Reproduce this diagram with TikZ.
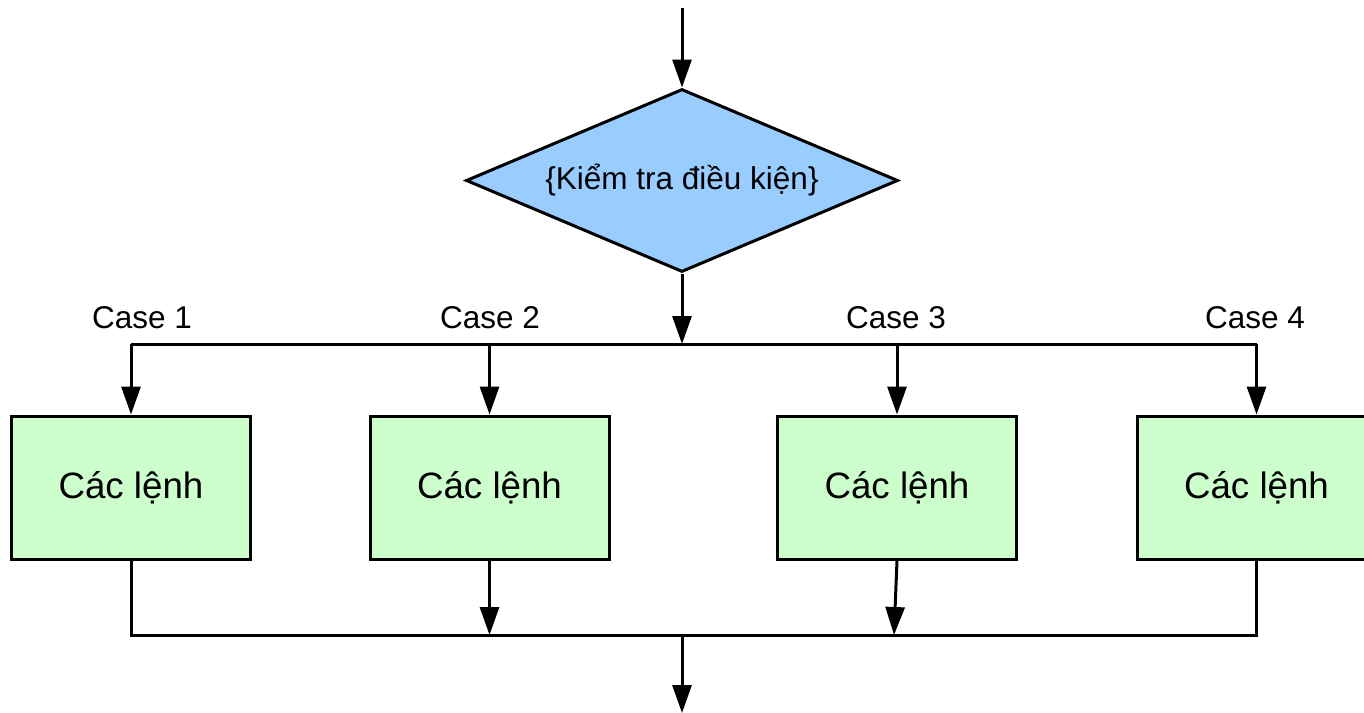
\documentclass[tikz,border=0pt]{standalone}
\usepackage{fontspec}
\setmainfont{Liberation Sans}
\usetikzlibrary{shapes.geometric,arrows.meta,calc}
\definecolor{decblue}{HTML}{99CCFF}
\definecolor{boxgreen}{HTML}{CCFFCC}
\begin{document}
\begin{tikzpicture}[x=1pt,y=-1pt,
  ln/.style={line width=3pt,line join=miter},
  arr/.style={ln,-{Triangle[length=28pt,width=19pt]}},
  decision/.style={diamond,draw,line width=3pt,fill=decblue,aspect=2.36,
    minimum width=432pt,minimum height=183pt,inner sep=0pt,
    font=\fontsize{31.5}{36}\selectfont},
  stmt/.style={rectangle,draw,line width=3pt,fill=boxgreen,
    minimum width=239pt,minimum height=143pt,inner sep=0pt,
    font=\fontsize{36.7}{42}\selectfont},
  caselbl/.style={font=\fontsize{31.5}{36}\selectfont,inner sep=0pt}]
\useasboundingbox[fill=white] (0,0) rectangle (1364,712);
\coordinate (topin) at (682,8);
\node[decision] (dec) at (682,180.5) {\{Kiểm tra điều kiện\}};
\coordinate (split) at (682,344);
\coordinate (join) at (682,635);
\coordinate (out) at (682,713);
\node[stmt] (b1) at (131,487.5) {Các lệnh};
\node[stmt] (b2) at (489.5,487.5) {Các lệnh};
\node[stmt] (b3) at (897,487.5) {Các lệnh};
\node[stmt] (b4) at (1256.5,487.5) {Các lệnh};
\node[caselbl] (c1) at (142,318) {Case 1};
\node[caselbl] (c2) at (490,318) {Case 2};
\node[caselbl] (c3) at (896,318) {Case 3};
\node[caselbl] (c4) at (1255,318) {Case 4};
\draw[arr] (topin) -- (dec.north);
\draw[arr] (dec.south) -- (split);
\draw[ln] (b1.north |- split) -- (b4.north |- split);
\draw[arr] (b1.north |- split) -- (b1.north);
\draw[arr] (b2.north |- split) -- (b2.north);
\draw[arr] (b3.north |- split) -- (b3.north);
\draw[arr] (b4.north |- split) -- (b4.north);
\draw[ln] (b1.south) -- (b1.south |- join) -- (b4.south |- join) -- (b4.south);
\draw[arr] (b2.south) -- (b2.south |- join);
\draw[arr] (b3.south) -- ($(b3.south |- join)+(-3,0)$);
\draw[arr] (join) -- (out);
\end{tikzpicture}
\end{document}
